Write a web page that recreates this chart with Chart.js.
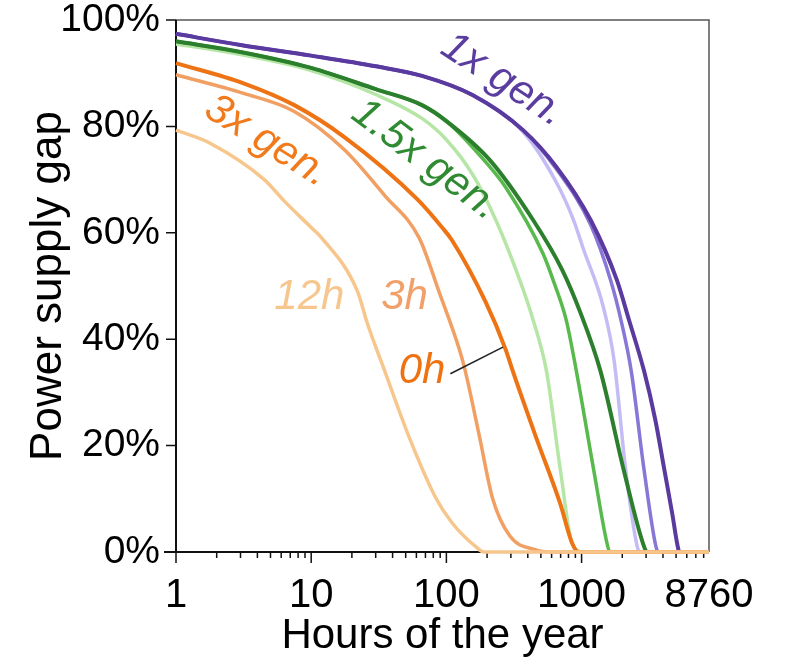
<!DOCTYPE html>
<html>
<head>
<meta charset="utf-8">
<script src="https://cdn.jsdelivr.net/npm/chart.js@4/dist/chart.umd.min.js"></script>
<style>
  html, body { margin: 0; padding: 0; background: #fff; }
  #wrap { width: 794px; height: 662px; }
</style>
</head>
<body>
<div id="wrap"><canvas id="gapChart" width="794" height="662"></canvas></div>
<script>
// Hours of the year (x) and power supply gap in % (y)
// 1x generation
const hrsPurple0 = [1, 3, 10, 30, 66, 156, 369, 651, 1167, 1825, 2243, 2900, 3500, 4100, 4700, 5100, 5300, 8760];
const gapPurple0 = [97.4, 95.3, 93.3, 91.3, 89.5, 85.9, 79.3, 72.4, 62.4, 51.1, 43.6, 34, 25, 15.4, 7, 1.5, 0, 0];
const hrsPurple3 = [1, 3, 10, 30, 66, 156, 369, 651, 1167, 1644, 1960, 2330, 2900, 3550, 3700, 8760];
const gapPurple3 = [97.4, 95.3, 93.3, 91.3, 89.5, 85.9, 79.3, 72, 61.5, 51, 43.5, 34, 15.4, 1, 0, 0];
const hrsPurple12 = [1, 3, 10, 30, 66, 156, 369, 650, 872, 1030, 1450, 1740, 2120, 2580, 2700, 8760];
const gapPurple12 = [97.4, 95.3, 93.3, 91.3, 89.5, 85.9, 79, 69.5, 62.4, 57, 46, 36, 15.4, 1, 0, 0];
// 1.5x generation
const hrsGreen0 = [1, 3, 10, 30, 66, 100, 209, 438, 720, 980, 1380, 2050, 2900, 3050, 8760];
const gapGreen0 = [96, 94, 91, 87, 84, 81, 73.7, 62.4, 53, 45, 34, 15.4, 1, 0, 0];
const hrsGreen3 = [1, 3, 10, 30, 66, 100, 200, 275, 520, 618, 770, 915, 1230, 1540, 1620, 8760];
const gapGreen3 = [96, 94, 91, 87, 84, 81, 73, 68.5, 56, 51, 43.6, 34, 15.4, 1.7, 0, 0];
const hrsGreen12 = [1, 3, 10, 30, 66, 100, 156, 232, 350, 438, 550, 697, 850, 1030, 8760];
const gapGreen12 = [95.5, 93.5, 90.5, 86, 81.5, 77.5, 71, 62.4, 51, 43.6, 34, 15.4, 1.7, 0, 0];
// 3x generation
const hrsOrange0 = [1, 3.16, 7.5, 17.6, 61.6, 93, 110, 195, 275, 310, 460, 697, 850, 950, 8760];
const gapOrange0 = [91.9, 88.1, 84, 78, 66.2, 61, 58.6, 47, 38, 34, 21.6, 9, 1.7, 0, 0];
const hrsOrange3 = [1, 3.16, 7.5, 17.6, 35, 63, 88, 125, 138, 176, 220, 295, 460, 600, 8760];
const gapOrange3 = [89.7, 86.2, 82.8, 75.6, 67, 59, 49, 38, 34, 21.6, 10, 3, 0.4, 0, 0];
const hrsOrange12 = [1, 1.8, 4.5, 6.3, 10, 12, 22, 26, 35, 53, 83, 110, 165, 190, 8760];
const gapOrange12 = [79.3, 76.8, 70, 66, 61, 59, 49, 43, 34, 21.6, 10.3, 5.5, 1, 0, 0];

const xTickValues = [1, 10, 100, 1000, 8760];
const yTickValues = [0, 20, 40, 60, 80, 100];

// text labels in data coordinates
const curveLabels = [
    { text: '1x gen.', x: 262, y: 88.7, angle: 33, color: '#5b3d9f' },
    { text: '1.5x gen.', x: 70, y: 73.7, angle: 37, color: '#2f8a32' },
    { text: '3x gen.', x: 4.7, y: 77.2, angle: 32, color: '#f07a1c' },
    { text: '12h', x: 9.7, y: 47.9, angle: 0, color: '#f6c68e' },
    { text: '3h', x: 49, y: 47.9, angle: 0, color: '#f1a06a' },
    { text: '0h', x: 66, y: 34, angle: 0, color: '#ee7212' }
];
const leader = { from: [107, 33.5], to: [262, 38.5] };

const FONT = '"Liberation Sans", Arial, Helvetica, sans-serif';

function pts(hrs, gap) {
    return hrs.map((h, i) => ({ x: h, y: gap[i] }));
}

function series(hrs, gap, color, width) {
    return {
        data: pts(hrs, gap),
        borderColor: color,
        borderWidth: width,
        pointRadius: 0,
        fill: false,
        cubicInterpolationMode: 'monotone',
        clip: 6
    };
}

// dataset 0 is drawn on top
const datasets = [
    series(hrsOrange12, gapOrange12, '#f7c68c', 3.5),
    series(hrsOrange3, gapOrange3, '#f19f63', 3.5),
    series(hrsOrange0, gapOrange0, '#ee7314', 4),
    series(hrsGreen0, gapGreen0, '#2b7f2d', 4),
    series(hrsGreen3, gapGreen3, '#58b94c', 3.5),
    series(hrsGreen12, gapGreen12, '#b6e6a6', 3.5),
    series(hrsPurple0, gapPurple0, '#5a3a9e', 4),
    series(hrsPurple3, gapPurple3, '#8877d6', 3.5),
    series(hrsPurple12, gapPurple12, '#c4bcf4', 3.5)
];

// frame, tick marks and curve labels
const decorPlugin = {
    id: 'decor',
    beforeDatasetsDraw(chart) {
        const { ctx, chartArea: a, scales } = chart;
        const xs = scales.x, ys = scales.y;
        ctx.save();
        ctx.strokeStyle = '#555';
        ctx.lineWidth = 1.5;
        ctx.beginPath();
        ctx.moveTo(a.left, a.top);
        ctx.lineTo(a.right, a.top);
        ctx.lineTo(a.right, a.bottom);
        ctx.stroke();
        ctx.strokeStyle = '#111';
        ctx.lineWidth = 2;
        ctx.beginPath();
        ctx.moveTo(a.left, a.top);
        ctx.lineTo(a.left, a.bottom);
        ctx.moveTo(a.left - 12, a.bottom);
        ctx.lineTo(a.right, a.bottom);
        ctx.stroke();
        ctx.lineWidth = 1.5;
        ctx.beginPath();
        yTickValues.forEach(v => {
            const y = ys.getPixelForValue(v);
            ctx.moveTo(a.left - 10, y);
            ctx.lineTo(a.left, y);
        });
        for (let d = 1; d <= 1000; d *= 10) {
            for (let k = 1; k <= 9; k++) {
                const v = d * k;
                if (v > 8760) break;
                const x = xs.getPixelForValue(v);
                ctx.moveTo(x, a.bottom);
                ctx.lineTo(x, a.bottom + (k === 1 ? 11 : 6));
            }
        }
        ctx.stroke();
        ctx.restore();
    },
    afterDatasetsDraw(chart) {
        const { ctx, scales } = chart;
        const xs = scales.x, ys = scales.y;
        ctx.save();
        ctx.strokeStyle = '#222';
        ctx.lineWidth = 1.5;
        ctx.beginPath();
        ctx.moveTo(xs.getPixelForValue(leader.from[0]), ys.getPixelForValue(leader.from[1]));
        ctx.lineTo(xs.getPixelForValue(leader.to[0]), ys.getPixelForValue(leader.to[1]));
        ctx.stroke();
        ctx.font = 'italic 42px ' + FONT;
        ctx.textAlign = 'center';
        ctx.textBaseline = 'middle';
        curveLabels.forEach(l => {
            ctx.save();
            ctx.translate(xs.getPixelForValue(l.x), ys.getPixelForValue(l.y));
            ctx.rotate(l.angle * Math.PI / 180);
            ctx.fillStyle = l.color;
            ctx.fillText(l.text, 0, 0);
            ctx.restore();
        });
        ctx.restore();
    }
};

new Chart(document.getElementById('gapChart'), {
    type: 'line',
    data: { datasets: datasets },
    options: {
        responsive: false,
        animation: false,
        layout: { padding: { top: 20, right: 85, left: 0, bottom: 0 } },
        plugins: {
            legend: { display: false },
            tooltip: { enabled: false }
        },
        scales: {
            x: {
                type: 'logarithmic',
                min: 1,
                max: 8760,
                afterBuildTicks: scale => {
                    scale.ticks = xTickValues.map(v => ({ value: v }));
                },
                afterFit: scale => { scale.height = 110; },
                grid: { display: false, drawTicks: false },
                border: { display: false },
                ticks: {
                    autoSkip: false,
                    maxRotation: 0,
                    padding: 20,
                    color: '#000',
                    font: { family: FONT, size: 40 },
                    callback: v => String(v)
                },
                title: {
                    display: true,
                    text: 'Hours of the year',
                    color: '#000',
                    font: { family: FONT, size: 42 },
                    padding: { top: 0, bottom: 0 }
                }
            },
            y: {
                min: 0,
                max: 100,
                afterBuildTicks: scale => {
                    scale.ticks = yTickValues.map(v => ({ value: v }));
                },
                afterFit: scale => {
                    scale.width = 176;
                    scale.paddingTop = 0;
                    scale.paddingBottom = 0;
                },
                grid: { display: false, drawTicks: false },
                border: { display: false },
                ticks: {
                    padding: 16,
                    color: '#000',
                    font: { family: FONT, size: 39 },
                    callback: v => v + '%'
                },
                title: {
                    display: true,
                    text: 'Power supply gap',
                    color: '#000',
                    font: { family: FONT, size: 44 },
                    padding: { top: 22, bottom: 0 }
                }
            }
        }
    },
    plugins: [decorPlugin]
});
</script>
</body>
</html>
